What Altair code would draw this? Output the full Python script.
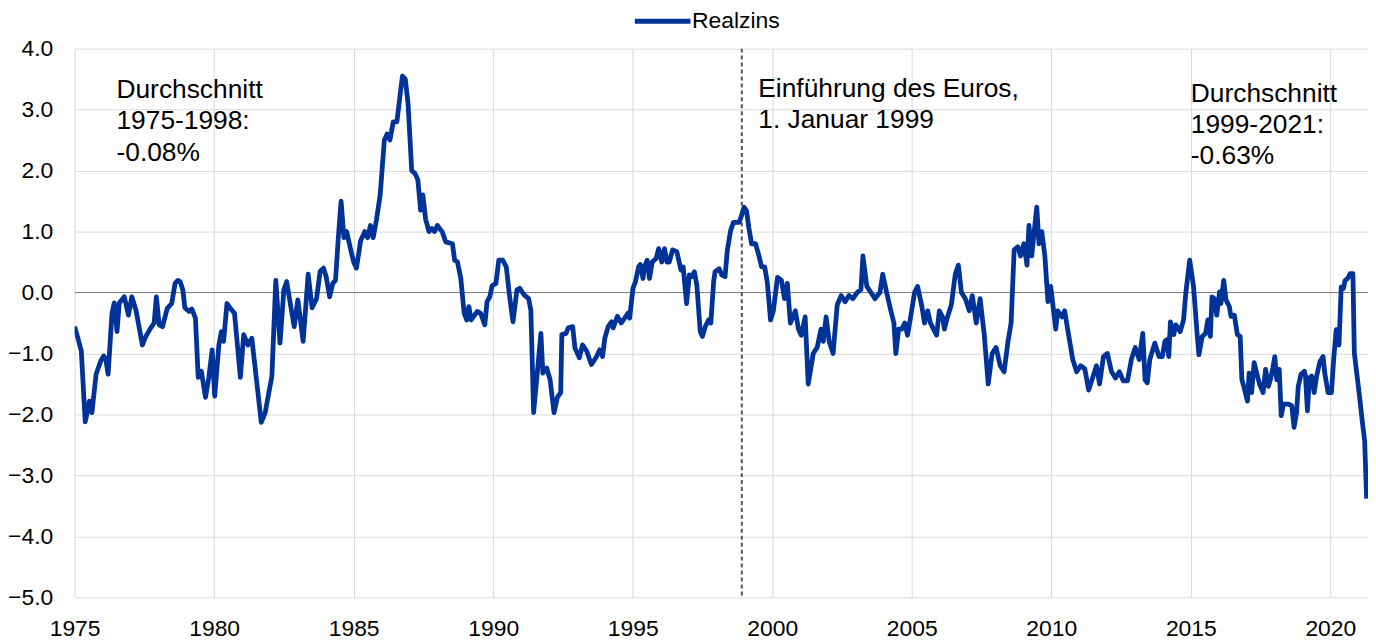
import altair as alt
import pandas as pd

# ---- data ----
years = [
    1975.00, 1975.12, 1975.24, 1975.38, 1975.46, 1975.53, 1975.62, 1975.77, 1975.93, 1976.04,
    1976.12, 1976.20, 1976.34, 1976.42, 1976.52, 1976.60, 1976.78, 1976.93, 1977.05, 1977.20,
    1977.43, 1977.55, 1977.73, 1977.85, 1977.93, 1978.03, 1978.15, 1978.32, 1978.48, 1978.60,
    1978.70, 1978.78, 1978.88, 1978.95, 1979.10, 1979.20, 1979.33, 1979.43, 1979.54, 1979.69,
    1979.81, 1979.93, 1980.02, 1980.17, 1980.26, 1980.34, 1980.46, 1980.58, 1980.73, 1980.94,
    1981.06, 1981.21, 1981.35, 1981.53, 1981.69, 1981.83, 1982.07, 1982.21, 1982.36, 1982.50,
    1982.60, 1982.70, 1982.87, 1983.00, 1983.19, 1983.37, 1983.51, 1983.67, 1983.80, 1983.92,
    1984.02, 1984.14, 1984.25, 1984.35, 1984.45, 1984.55, 1984.65, 1984.75, 1984.87, 1985.00,
    1985.10, 1985.25, 1985.40, 1985.50, 1985.60, 1985.70, 1985.82, 1985.95, 1986.10, 1986.20,
    1986.30, 1986.42, 1986.55, 1986.68, 1986.75, 1986.85, 1986.95, 1987.08, 1987.20, 1987.30,
    1987.40, 1987.48, 1987.58, 1987.70, 1987.80, 1987.90, 1988.00, 1988.18, 1988.30, 1988.54,
    1988.62, 1988.72, 1988.84, 1988.96, 1989.05, 1989.13, 1989.21, 1989.43, 1989.55, 1989.70,
    1989.78, 1989.88, 1989.96, 1990.10, 1990.20, 1990.34, 1990.47, 1990.59, 1990.71, 1990.85,
    1990.95, 1991.11, 1991.27, 1991.35, 1991.45, 1991.57, 1991.71, 1991.78, 1991.92, 1992.04,
    1992.18, 1992.30, 1992.42, 1992.46, 1992.61, 1992.69, 1992.85, 1992.93, 1993.09, 1993.20,
    1993.35, 1993.52, 1993.68, 1993.82, 1993.92, 1994.00, 1994.12, 1994.24, 1994.30, 1994.45,
    1994.59, 1994.83, 1994.89, 1995.01, 1995.10, 1995.21, 1995.27, 1995.37, 1995.42, 1995.52,
    1995.60, 1995.70, 1995.84, 1995.93, 1996.04, 1996.14, 1996.23, 1996.31, 1996.43, 1996.58,
    1996.73, 1996.81, 1996.93, 1997.03, 1997.12, 1997.21, 1997.30, 1997.42, 1997.50, 1997.60,
    1997.72, 1997.80, 1997.90, 1997.95, 1998.10, 1998.19, 1998.31, 1998.39, 1998.51, 1998.61,
    1998.81, 1998.90, 1998.99, 1999.08, 1999.16, 1999.26, 1999.40, 1999.52, 1999.62, 1999.73,
    1999.82, 1999.94, 2000.04, 2000.19, 2000.33, 2000.44, 2000.54, 2000.65, 2000.83, 2000.94,
    2001.04, 2001.18, 2001.29, 2001.47, 2001.61, 2001.75, 2001.83, 2001.93, 2002.04, 2002.18,
    2002.33, 2002.47, 2002.61, 2002.75, 2002.89, 2003.04, 2003.18, 2003.25, 2003.39, 2003.54,
    2003.68, 2003.86, 2003.96, 2004.10, 2004.25, 2004.36, 2004.43, 2004.53, 2004.64, 2004.75,
    2004.85, 2004.96, 2005.10, 2005.21, 2005.35, 2005.46, 2005.57, 2005.67, 2005.78, 2005.89,
    2005.99, 2006.10, 2006.17, 2006.28, 2006.42, 2006.56, 2006.67, 2006.78, 2006.92, 2007.06,
    2007.17, 2007.31, 2007.45, 2007.60, 2007.74, 2007.88, 2008.02, 2008.17, 2008.31, 2008.45,
    2008.56, 2008.67, 2008.80, 2008.90, 2009.02, 2009.13, 2009.20, 2009.30, 2009.41, 2009.48,
    2009.56, 2009.66, 2009.77, 2009.88, 2009.98, 2010.16, 2010.23, 2010.38, 2010.48, 2010.55,
    2010.66, 2010.77, 2010.91, 2011.05, 2011.20, 2011.34, 2011.48, 2011.62, 2011.73, 2011.87,
    2012.01, 2012.16, 2012.30, 2012.44, 2012.58, 2012.73, 2012.87, 2013.01, 2013.15, 2013.28,
    2013.36, 2013.44, 2013.53, 2013.71, 2013.86, 2013.98, 2014.07, 2014.15, 2014.21, 2014.27,
    2014.39, 2014.46, 2014.62, 2014.74, 2014.82, 2014.96, 2015.10, 2015.22, 2015.29, 2015.41,
    2015.53, 2015.61, 2015.70, 2015.76, 2015.84, 2015.93, 2016.03, 2016.08, 2016.18, 2016.26,
    2016.38, 2016.44, 2016.56, 2016.67, 2016.77, 2016.83, 2016.91, 2017.03, 2017.09, 2017.18,
    2017.27, 2017.36, 2017.47, 2017.59, 2017.68, 2017.78, 2017.85, 2017.94, 2018.01, 2018.08,
    2018.17, 2018.24, 2018.32, 2018.50, 2018.62, 2018.70, 2018.79, 2018.85, 2018.95, 2019.07,
    2019.11, 2019.18, 2019.25, 2019.33, 2019.42, 2019.51, 2019.63, 2019.74, 2019.80, 2019.92,
    2020.04, 2020.12, 2020.21, 2020.31, 2020.39, 2020.47, 2020.53, 2020.62, 2020.71, 2020.81,
    2020.86, 2021.03, 2021.15, 2021.23, 2021.30,
]
values = [
    -0.56, -0.75, -0.96, -2.12, -1.95, -1.78, -1.97, -1.34, -1.13, -1.04,
    -1.10, -1.34, -0.34, -0.17, -0.64, -0.17, -0.07, -0.37, -0.07, -0.29,
    -0.86, -0.72, -0.58, -0.50, -0.07, -0.53, -0.56, -0.26, -0.18, 0.15,
    0.20, 0.18, 0.04, -0.25, -0.31, -0.27, -0.42, -1.39, -1.29, -1.72,
    -1.39, -0.94, -1.70, -0.86, -0.64, -0.80, -0.18, -0.26, -0.34, -1.39,
    -0.69, -0.86, -0.75, -1.48, -2.13, -1.97, -1.37, 0.20, -0.83, 0.05,
    0.18, -0.10, -0.56, -0.12, -0.80, 0.30, -0.25, -0.10, 0.35, 0.40,
    0.25, -0.07, 0.15, 0.20, 0.90, 1.50, 0.90, 1.00, 0.75, 0.50,
    0.40, 0.85, 1.00, 0.90, 1.10, 0.90, 1.20, 1.60, 2.50, 2.60,
    2.50, 2.80, 2.80, 3.30, 3.55, 3.50, 3.10, 2.00, 1.95, 1.85,
    1.35, 1.60, 1.20, 1.00, 1.05, 1.00, 1.10, 0.99, 0.83, 0.80,
    0.53, 0.50, 0.23, -0.34, -0.45, -0.23, -0.45, -0.31, -0.34, -0.53,
    -0.15, -0.07, 0.11, 0.15, 0.53, 0.53, 0.42, -0.07, -0.48, 0.04,
    0.07, -0.04, -0.10, -0.29, -1.97, -1.37, -0.67, -1.32, -1.24, -1.43,
    -1.97, -1.72, -1.64, -0.69, -0.67, -0.58, -0.56, -0.91, -1.07, -0.86,
    -0.96, -1.18, -1.07, -0.94, -1.05, -0.75, -0.56, -0.48, -0.58, -0.39,
    -0.50, -0.34, -0.42, 0.07, 0.18, 0.42, 0.46, 0.23, 0.42, 0.53,
    0.23, 0.50, 0.56, 0.72, 0.50, 0.72, 0.50, 0.50, 0.70, 0.67,
    0.37, 0.42, -0.18, 0.29, 0.26, 0.34, 0.12, -0.64, -0.72, -0.56,
    -0.45, -0.50, 0.18, 0.34, 0.39, 0.29, 0.26, 0.69, 1.02, 1.15,
    1.15, 1.26, 1.40, 1.34, 1.07, 0.80, 0.80, 0.61, 0.42, 0.42,
    0.18, -0.45, -0.30, 0.25, 0.20, -0.10, 0.15, -0.50, -0.30, -0.60,
    -0.70, -0.40, -1.50, -1.00, -0.90, -0.60, -0.80, -0.40, -0.80, -1.00,
    -0.20, -0.05, -0.15, -0.05, -0.10, 0.00, 0.05, 0.60, 0.10, 0.00,
    -0.10, 0.00, 0.30, 0.00, -0.30, -0.50, -1.00, -0.60, -0.60, -0.50,
    -0.70, -0.40, 0.00, 0.10, -0.20, -0.50, -0.30, -0.50, -0.60, -0.70,
    -0.30, -0.40, -0.60, -0.40, -0.20, 0.30, 0.45, 0.00, -0.10, -0.30,
    -0.05, -0.50, -0.10, -0.70, -1.50, -1.00, -0.90, -1.20, -1.30, -0.80,
    -0.50, 0.70, 0.75, 0.60, 0.80, 0.45, 1.10, 0.60, 1.10, 1.40,
    0.80, 1.00, 0.60, -0.15, 0.10, -0.60, -0.30, -0.40, -0.30, -0.50,
    -0.80, -1.10, -1.30, -1.20, -1.25, -1.60, -1.40, -1.20, -1.50, -1.05,
    -1.00, -1.30, -1.40, -1.30, -1.45, -1.45, -1.10, -0.90, -1.10, -0.67,
    -1.43, -1.48, -1.10, -0.83, -1.05, -1.05, -0.80, -0.77, -1.05, -0.48,
    -0.69, -0.53, -0.64, -0.45, -0.01, 0.53, 0.09, -0.64, -1.02, -0.72,
    -0.67, -0.45, -0.72, -0.07, -0.10, -0.37, 0.01, -0.18, 0.20, -0.12,
    -0.23, -0.39, -0.37, -0.69, -0.72, -1.43, -1.56, -1.78, -1.32, -1.64,
    -1.15, -1.32, -1.51, -1.64, -1.26, -1.54, -1.43, -1.24, -1.05, -1.43,
    -1.26, -2.02, -1.83, -1.83, -1.86, -2.21, -1.97, -1.54, -1.34, -1.29,
    -1.37, -1.94, -1.40, -1.37, -1.64, -1.37, -1.13, -1.05, -1.32, -1.64,
    -1.64, -1.10, -0.61, -0.86, 0.09, 0.07, 0.20, 0.23, 0.31, 0.31,
    -0.99, -1.64, -2.13, -2.43, -3.38,
]
series_name = "Realzins"
x_ticks = [1975, 1980, 1985, 1990, 1995, 2000, 2005, 2010, 2015, 2020]
y_ticks = [-5, -4, -3, -2, -1, 0, 1, 2, 3, 4]
euro_date = [1998.91]
ann_x = [1976.5, 1999.5, 2015.0]
ann_y = [3.53, 3.55, 3.47]
ann_text = [
    "Durchschnitt\n1975-1998:\n-0.08%",
    "Einführung des Euros,\n1. Januar 1999",
    "Durchschnitt\n1999-2021:\n-0.63%",
]

FONT = "Liberation Sans, Arial, sans-serif"
BLUE = "#003399"

df = pd.DataFrame({"year": years, "value": values, "series": series_name})
ann = pd.DataFrame({"x": ann_x, "y": ann_y, "text": ann_text})
euro = pd.DataFrame({"x": euro_date})
zero = pd.DataFrame({"y": [0]})

xs = alt.Scale(domain=[1975, 2021.35], nice=False, zero=False)
ys = alt.Scale(domain=[-5, 4], nice=False, zero=False)

line = alt.Chart(df).mark_line(strokeWidth=4.8, clip=True, strokeJoin="round").encode(
    x=alt.X("year:Q", scale=xs, axis=alt.Axis(
        values=x_ticks, format="d", title=None, grid=True, gridColor="#d9d9d9",
        ticks=False, domain=False, labelFont=FONT, labelFontSize=23, labelColor="#000000",
        labelPadding=20, labelFlush=False)),
    y=alt.Y("value:Q", scale=ys, axis=alt.Axis(
        values=y_ticks, format=".1f", title=None, grid=True, gridColor="#d9d9d9",
        ticks=False, domain=False, labelFont=FONT, labelFontSize=23, labelColor="#000000",
        labelPadding=22, minExtent=62, maxExtent=62)),
    color=alt.Color("series:N", scale=alt.Scale(domain=[series_name], range=[BLUE]),
                    legend=alt.Legend(title=None, orient="none", legendX=580, legendY=-39,
                                      symbolType="M-7,0H7", symbolSize=64, symbolStrokeWidth=5,
                                      symbolFillColor=BLUE, symbolStrokeColor=BLUE,
                                      labelFont=FONT, labelFontSize=23, labelColor="#000000",
                                      labelOffset=18, padding=0)),
)

zero_rule = alt.Chart(zero).mark_rule(color="#808080", strokeWidth=1).encode(
    y=alt.Y("y:Q", scale=ys))

euro_rule = alt.Chart(euro).mark_rule(color="#555555", strokeWidth=2, strokeDash=[4, 3]).encode(
    x=alt.X("x:Q", scale=xs))

texts = alt.Chart(ann).mark_text(align="left", baseline="top", font=FONT, fontSize=26.5,
                                 lineBreak="\n", lineHeight=31.5, color="#000000").encode(
    x=alt.X("x:Q", scale=xs), y=alt.Y("y:Q", scale=ys), text="text:N")

chart = alt.layer(zero_rule, euro_rule, line, texts).properties(
    width=1301, height=552,
    autosize="none",
    padding={"left": 67, "top": 39, "right": 0, "bottom": 45},
).configure_view(stroke=None)

chart.save("out.html", embed_options={"renderer": "svg", "actions": False})
